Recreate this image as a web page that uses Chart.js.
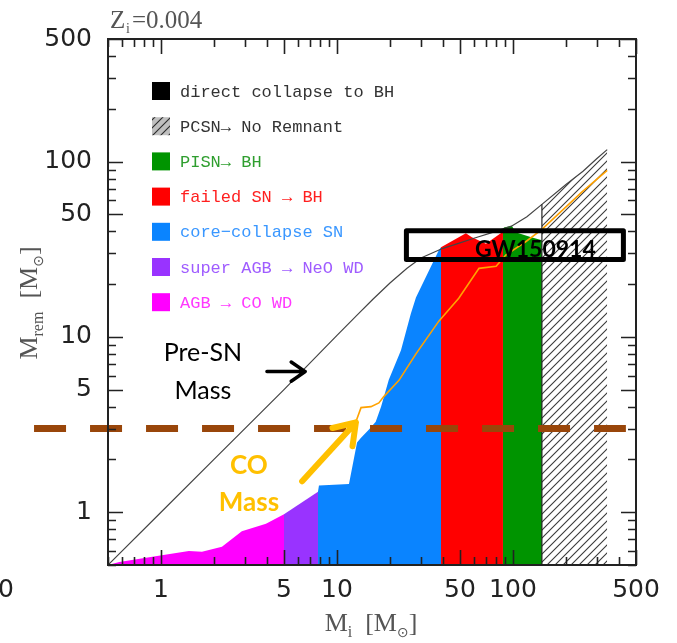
<!DOCTYPE html>
<html>
<head>
<meta charset="utf-8">
<script src="https://cdn.jsdelivr.net/npm/chart.js@4.4.0/dist/chart.umd.min.js"></script>
<style>
html, body { margin: 0; padding: 0; background: #fff; }
</style>
</head>
<body>
<canvas id="c" width="677" height="643"></canvas>
<script>
// initial mass M_i vs remnant mass M_rem (solar masses)
const agbX = [0.5, 0.58, 0.97, 1.44, 1.71, 2.22, 2.88, 3.95, 5.0];
const agbY = [0.5, 0.52, 0.565, 0.60, 0.595, 0.635, 0.78, 0.86, 0.975];
const superAgbX = [5.0, 7.8];
const superAgbY = [0.975, 1.31];
const ccsnX = [7.8, 7.9, 11.7, 13.0, 13.7, 15.2, 16.6, 17.8, 19.7, 23.1, 26.3, 28.1, 37.9, 39.0];
const ccsnY = [1.31, 1.42, 1.45, 2.5, 2.66, 2.96, 3.28, 4.0, 5.7, 8.4, 13.6, 16.8, 31.2, 32.5];
const failedX = [39.0, 54, 58.4, 70.2, 85.2, 87.7];
const failedY = [32.5, 39, 37, 34, 39, 40.5];
const pisnX = [87.7, 88.8, 98.5, 103.5, 127, 146];
const pisnY = [40.5, 42, 43, 39.5, 37, 35.6];
const pcsnX = [146, 200, 250, 300, 343];
const pcsnY = [57, 74, 88, 104, 117];

const preSnX = [0.5, 1, 2, 5, 10, 13, 16, 20, 25, 30, 40, 50, 60, 80, 98, 120, 146, 200, 250, 300, 343];
const preSnY = [0.5, 1, 2, 5, 10.2, 13.3, 16.4, 20.3, 24.6, 28.2, 32, 34.4, 36.5, 40, 42.8, 48.5, 57, 74, 88, 104, 117];
const coX = [12.9, 13.7, 15.6, 17.3, 18.4, 22.5, 28.1, 37.9, 49.2, 64.1, 80.2, 91.3, 118.6, 146, 246, 343];
const coY = [3.35, 3.95, 4.0, 4.2, 4.55, 5.65, 8.0, 12.3, 16.6, 24.6, 25.3, 29.4, 35, 41, 67, 89];

const nsLimitX = [0.19, 438];
const nsLimitY = [3.0, 3.0];

const tickValues = [1, 5, 10, 50, 100, 500];
const tickLabels = ['1', '5', '10', '50', '100', '500'];

const legendLabels = ['direct collapse to BH', 'PCSN\u2192 No Remnant', 'PISN\u2192 BH', 'failed SN \u2192 BH',
  'core\u2212collapse SN', 'super AGB \u2192 NeO WD', 'AGB \u2192 CO WD'];
const legendTextColors = ['#333', '#333', '#2f9e2f', '#ff1f1f', '#3a97ff', '#9f5cff', '#ff38ff'];

// GW150914 box, in M_i / M_rem units
const gwBoxX = [24.8, 424];
const gwBoxY = [27.6, 40.3];

function pts(xs, ys) { return xs.map((x, i) => ({ x: x, y: ys[i] })); }

function hatchPattern() {
  const c = document.createElement('canvas');
  c.width = 8; c.height = 8;
  const g = c.getContext('2d');
  g.strokeStyle = '#3a3a3a';
  g.lineWidth = 1.1;
  g.beginPath();
  g.moveTo(0, 8); g.lineTo(8, 0);
  g.moveTo(-2, 2); g.lineTo(2, -2);
  g.moveTo(6, 10); g.lineTo(10, 6);
  g.stroke();
  return g.createPattern(c, 'repeat');
}
const hatch = hatchPattern();
const legendSwatches = ['#000000', hatch, '#009400', '#ff0000', '#0a84ff', '#9933ff', '#ff00ff'];

function region(label, xs, ys, color) {
  return { label: label, data: pts(xs, ys), backgroundColor: color, borderColor: color,
    borderWidth: 0, fill: 'start', order: 10 };
}

const datasets = [
  region('AGB', agbX, agbY, '#ff00ff'),
  region('super AGB', superAgbX, superAgbY, '#9933ff'),
  region('core-collapse SN', ccsnX, ccsnY, '#0a84ff'),
  region('failed SN', failedX, failedY, '#ff0000'),
  region('PISN', pisnX, pisnY, '#009400'),
  region('PCSN', pcsnX, pcsnY, hatch),
  { label: 'PCSN edge', data: pts([146, 146], [0.5, 57]), borderColor: '#222', borderWidth: 1.2, fill: false, order: 5 },
  { label: 'Pre-SN mass', data: pts(preSnX, preSnY), borderColor: '#444', borderWidth: 1.2, fill: false, order: 5 },
  { label: 'CO mass', data: pts(coX, coY), borderColor: '#ffa200', borderWidth: 1.6, fill: false, order: 4 },
  { label: 'NS limit', data: pts(nsLimitX, nsLimitY), borderColor: '#99460a', borderWidth: 7,
    borderDash: [32, 24], borderCapStyle: 'butt', fill: false, clip: false, order: 1 }
];

function drawSegs(ctx, segs, cx, cy) {
  // segs: [text, font, dy]; drawn centred on cx
  let w = 0;
  segs.forEach(s => { ctx.font = s[1]; w += ctx.measureText(s[0]).width; });
  let x = cx - w / 2;
  ctx.textAlign = 'left';
  ctx.textBaseline = 'alphabetic';
  segs.forEach(s => { ctx.font = s[1]; ctx.fillText(s[0], x, cy + s[2]); x += ctx.measureText(s[0]).width; });
}

function arrow(ctx, x0, y0, x1, y1, width, head, color) {
  const a = Math.atan2(y1 - y0, x1 - x0);
  ctx.save();
  ctx.strokeStyle = color;
  ctx.lineWidth = width;
  ctx.lineCap = 'round';
  ctx.lineJoin = 'round';
  ctx.beginPath();
  ctx.moveTo(x0, y0); ctx.lineTo(x1, y1);
  ctx.moveTo(x1 - head * Math.cos(a - 0.6), y1 - head * Math.sin(a - 0.6));
  ctx.lineTo(x1, y1);
  ctx.lineTo(x1 - head * Math.cos(a + 0.6), y1 - head * Math.sin(a + 0.6));
  ctx.stroke();
  ctx.restore();
}

const decor = {
  id: 'decor',
  afterDatasetsDraw(chart) {
    const ctx = chart.ctx;
    const xs = chart.scales.x, ys = chart.scales.y;
    const a = chart.chartArea;
    ctx.save();

    // frame
    ctx.strokeStyle = '#222';
    ctx.lineWidth = 2;
    ctx.strokeRect(a.left, a.top, a.right - a.left, a.bottom - a.top);

    // inward ticks on all four sides
    ctx.lineWidth = 1.6;
    ctx.beginPath();
    for (let n = -1; n <= 2; n++) {
      for (let k = 1; k <= 9; k++) {
        const v = k * Math.pow(10, n);
        if (v < 0.5 || v > 500) continue;
        const len = tickValues.some(t => Math.abs(t - v) < 1e-9) ? 15 : 8;
        const px = Math.round(xs.getPixelForValue(v)) + 0.5;
        const py = Math.round(ys.getPixelForValue(v)) + 0.5;
        ctx.moveTo(px, a.bottom); ctx.lineTo(px, a.bottom - len);
        ctx.moveTo(px, a.top); ctx.lineTo(px, a.top + len);
        ctx.moveTo(a.left, py); ctx.lineTo(a.left + len, py);
        ctx.moveTo(a.right, py); ctx.lineTo(a.right - len, py);
      }
    }
    ctx.stroke();

    // tick labels
    ctx.fillStyle = '#222';
    ctx.font = '25px "DejaVu Sans"';
    ctx.textBaseline = 'middle';
    tickValues.forEach((v, i) => {
      ctx.textAlign = 'right';
      ctx.fillText(tickLabels[i], 92, ys.getPixelForValue(v));
      ctx.textAlign = 'center';
      ctx.fillText(tickLabels[i], xs.getPixelForValue(v), 590);
    });
    ctx.textAlign = 'left';
    ctx.fillText('0', -2, 590);

    // axis titles and panel title
    ctx.fillStyle = '#555';
    const serif = '"Liberation Serif"';
    drawSegs(ctx, [['M', '26px ' + serif, 0], ['i', '16px ' + serif, 6], ['  [M', '26px ' + serif, 0],
      ['\u2299', '14px "DejaVu Sans"', 6], [']', '26px ' + serif, 0]], 371, 631);
    ctx.save();
    ctx.translate(37, 303);
    ctx.rotate(-Math.PI / 2);
    drawSegs(ctx, [['M', '26px ' + serif, 0], ['rem', '16px ' + serif, 6], ['  [M', '26px ' + serif, 0],
      ['\u2299', '14px "DejaVu Sans"', 6], [']', '26px ' + serif, 0]], 0, 0);
    ctx.restore();
    ctx.textAlign = 'left';
    ctx.font = '25px ' + serif;
    ctx.fillText('Z', 110, 28);
    ctx.font = '14px ' + serif;
    ctx.fillText('i', 126, 33);
    ctx.font = '25px ' + serif;
    ctx.fillText('=0.004', 132, 28);

    // legend
    ctx.textBaseline = 'middle';
    ctx.font = '17px "Liberation Mono"';
    legendLabels.forEach((lab, i) => {
      const y = 91 + i * 35.2;
      ctx.fillStyle = legendSwatches[i];
      ctx.fillRect(152, y - 9, 18, 18);
      if (i === 1) { ctx.fillStyle = 'rgba(0,0,0,0.25)'; ctx.fillRect(152, y - 9, 18, 18); }
      ctx.fillStyle = legendTextColors[i];
      ctx.fillText(lab, 180, y + 1);
    });

    // GW150914 box
    const bx0 = xs.getPixelForValue(gwBoxX[0]), bx1 = xs.getPixelForValue(gwBoxX[1]);
    const by0 = ys.getPixelForValue(gwBoxY[1]), by1 = ys.getPixelForValue(gwBoxY[0]);
    ctx.strokeStyle = '#000';
    ctx.lineWidth = 5;
    ctx.lineJoin = 'round';
    ctx.strokeRect(bx0, by0, bx1 - bx0, by1 - by0);
    ctx.fillStyle = '#000';
    ctx.textAlign = 'center';
    ctx.font = 'bold 23px Lato';
    ctx.fillText('GW150914', xs.getPixelForValue(134), ys.getPixelForValue(31.6));

    // annotations
    ctx.font = '25px Lato';
    ctx.fillText('Pre-SN', xs.getPixelForValue(1.73), ys.getPixelForValue(8.1));
    ctx.fillText('Mass', xs.getPixelForValue(1.73), ys.getPixelForValue(4.93));
    arrow(ctx, xs.getPixelForValue(4.0), ys.getPixelForValue(6.34), xs.getPixelForValue(6.6), ys.getPixelForValue(6.34), 3.5, 17, '#000');
    ctx.fillStyle = '#ffc000';
    ctx.font = 'bold 26px Lato';
    ctx.fillText('CO', xs.getPixelForValue(3.16), ys.getPixelForValue(1.85));
    ctx.fillText('Mass', xs.getPixelForValue(3.16), ys.getPixelForValue(1.14));
    arrow(ctx, xs.getPixelForValue(6.34), ys.getPixelForValue(1.5), xs.getPixelForValue(12.8), ys.getPixelForValue(3.25), 6, 24, '#ffc000');

    ctx.restore();
  }
};

new Chart(document.getElementById('c').getContext('2d'), {
  type: 'line',
  data: { datasets: datasets },
  options: {
    responsive: false,
    devicePixelRatio: 1,
    animation: false,
    layout: { padding: { left: 108, top: 39, right: 41, bottom: 78 } },
    elements: { point: { radius: 0 }, line: { tension: 0 } },
    scales: {
      x: { type: 'logarithmic', min: 0.5, max: 500, display: false },
      y: { type: 'logarithmic', min: 0.5, max: 500, display: false }
    },
    plugins: { legend: { display: false }, tooltip: { enabled: false } }
  },
  plugins: [decor]
});
</script>
</body>
</html>
